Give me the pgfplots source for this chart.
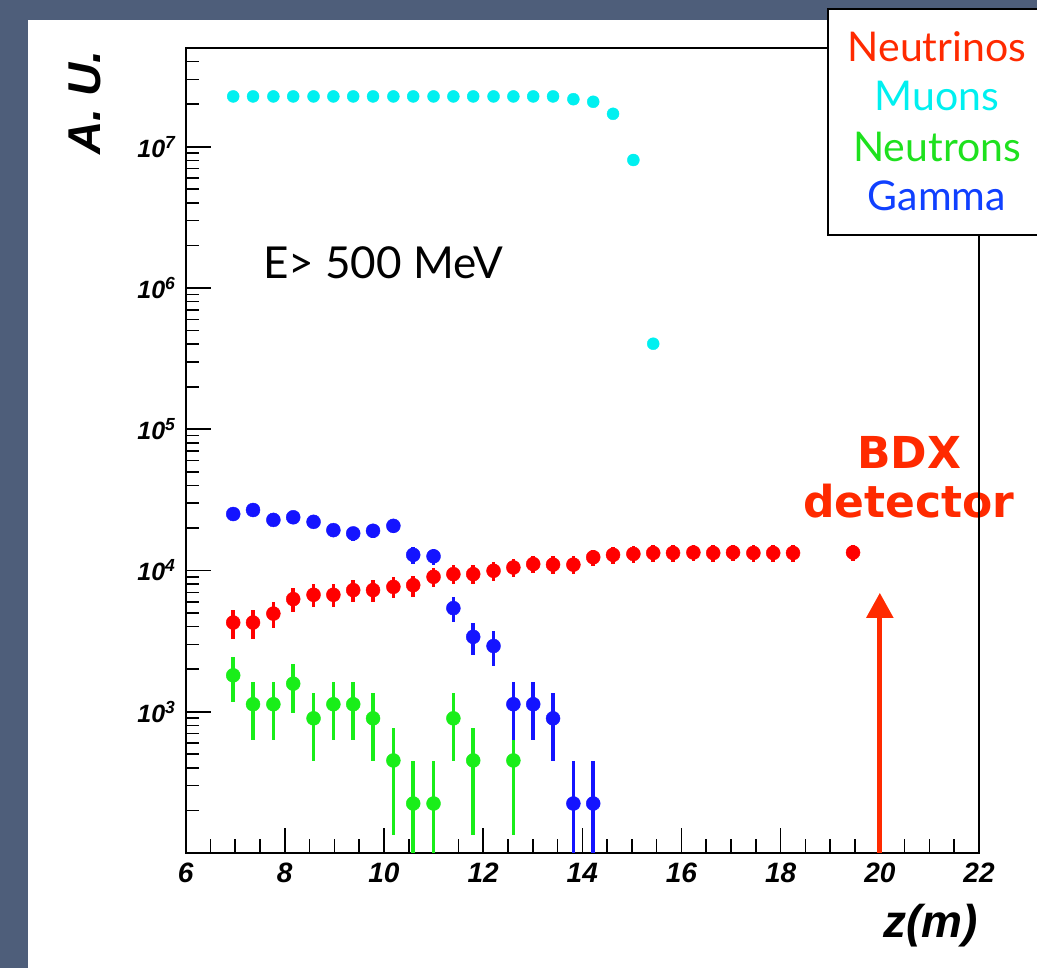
\documentclass[border=0pt]{standalone}
\usepackage{fontspec}
\usepackage{pgfplots}
\pgfplotsset{compat=1.18}
\usepackage{pgfplotstable}
\usetikzlibrary{arrows.meta}
\newfontfamily\helv{Liberation Sans}
\newfontfamily\gill{Lato}
\newfontfamily\dejavu{DejaVu Sans}
\definecolor{slide}{RGB}{78,94,122}
\definecolor{bdxred}{RGB}{255,42,0}
\definecolor{rred}{RGB}{255,0,0}
\definecolor{rgreen}{RGB}{25,238,25}
\definecolor{rblue}{RGB}{20,20,255}
\definecolor{rcyan}{RGB}{0,240,240}
\definecolor{lgreen}{RGB}{30,225,30}
\definecolor{lblue}{RGB}{16,64,255}

\pgfplotstableread{
z v ep em
6.96 4280 981 981
7.36 4280 981 981
7.77 4950 1055 1055
8.17 6270 1188 1188
8.58 6730 1231 1231
8.98 6730 1231 1231
9.38 7260 1278 1278
9.78 7260 1278 1278
10.19 7660 1313 1313
10.59 7870 1331 1331
11.00 9020 1425 1425
11.40 9420 1456 1456
11.80 9420 1456 1456
12.21 9950 1496 1496
12.61 10500 1537 1537
13.01 11100 1580 1580
13.41 11000 1573 1573
13.82 11000 1573 1573
14.22 12400 1670 1670
14.62 12900 1704 1704
15.03 13100 1717 1717
15.43 13300 1730 1730
15.83 13300 1730 1730
16.24 13400 1736 1736
16.64 13300 1730 1730
17.04 13400 1736 1736
17.45 13300 1730 1730
17.85 13300 1730 1730
18.25 13300 1730 1730
19.46 13400 1736 1736
}\neutrinos

\pgfplotstableread{
z v
6.96 22700000
7.36 22700000
7.77 22700000
8.17 22700000
8.58 22700000
8.98 22700000
9.38 22700000
9.78 22700000
10.19 22700000
10.59 22700000
11.00 22700000
11.40 22700000
11.80 22700000
12.21 22700000
12.61 22700000
13.01 22700000
13.41 22700000
13.82 21700000
14.22 20800000
14.62 17100000
15.03 8050000
15.43 403000
}\muons

\pgfplotstableread{
z v ep em
6.96 1810 638 638
7.36 1130 504 504
7.77 1130 504 504
8.17 1580 596 596
8.58 898 450 450
8.98 1130 504 504
9.38 1130 504 504
9.78 898 450 450
10.19 452 319 319
10.59 224 225 222
11.00 224 225 222
11.40 898 450 450
11.80 452 319 319
12.61 452 319 319
}\neutrons

\pgfplotstableread{
z v ep em
6.96 25100 2376 2376
7.36 26800 2456 2456
7.77 22800 2265 2265
8.17 23800 2314 2314
8.58 22100 2230 2230
8.98 19300 2084 2084
9.38 18300 2029 2029
9.78 19100 2073 2073
10.19 20700 2158 2158
10.59 12900 1704 1704
11.00 12600 1684 1684
11.40 5410 1103 1103
11.80 3390 873 873
12.21 2920 811 811
12.61 1130 504 504
13.01 1130 504 504
13.41 898 450 450
13.82 224 225 222
14.22 224 225 222
}\gammas

\begin{document}
\begin{tikzpicture}
\useasboundingbox (0,0) rectangle (1037pt,968pt);
\fill[slide] (0,0) rectangle (1037pt,968pt);
\fill[white] (28pt,0) rectangle (1037pt,948pt);

% annotation text (under the axis frame)
\node[font=\gill\fontsize{44}{44}\selectfont, anchor=base west, inner sep=0pt] at (263pt,689pt) {E> 500 MeV};
\node[font=\dejavu\bfseries\fontsize{44}{44}\selectfont, text=bdxred, anchor=base, inner sep=0pt] at (909pt,499pt) {BDX};
\node[font=\dejavu\bfseries\fontsize{44}{44}\selectfont, text=bdxred, anchor=base, inner sep=0pt] at (909pt,450pt) {detector};

\begin{axis}[
  at={(185.6pt,115pt)}, anchor=south west,
  scale only axis, width=793.4pt, height=805pt,
  xmin=6, xmax=22, ymode=log, ymin=100, ymax=5e7,
  tick pos=left, tick align=inside,
  xtick={6,8,10,12,14,16,18,20,22},
  xticklabels={6,8,10,12,14,16,18,20,22},
  minor x tick num=3,
  ytick={1000,10000,100000,1000000,10000000},
  yticklabels={{10\textsuperscript{3}},{10\textsuperscript{4}},{10\textsuperscript{5}},{10\textsuperscript{6}},{10\textsuperscript{7}}},
  minor ytick={200,300,400,500,600,700,800,900,2000,3000,4000,5000,6000,7000,8000,9000,20000,30000,40000,50000,60000,70000,80000,90000,200000,300000,400000,500000,600000,700000,800000,900000,2000000,3000000,4000000,5000000,6000000,7000000,8000000,9000000,20000000,30000000,40000000},
  major tick length=25pt, minor tick length=13.5pt,
  every tick/.style={black, line width=1.6pt},
  axis line style={line width=2pt},
  xticklabel style={font=\helv\bfseries\itshape\fontsize{28}{28}\selectfont, anchor=north, inner sep=0pt, yshift=-10pt},
  yticklabel style={font=\helv\bfseries\itshape\fontsize{25}{25}\selectfont, anchor=east, inner sep=0pt, xshift=-10pt},
  error bars/error bar style={line width=3.5pt},
]
\addplot[only marks, mark=*, color=rgreen, mark size=7pt,
  error bars/.cd, y dir=both, y explicit, error mark=none]
  table[x=z, y=v, y error plus=ep, y error minus=em] {\neutrons};
\addplot[only marks, mark=*, color=rred, mark size=7pt,
  error bars/.cd, y dir=both, y explicit, error mark=none]
  table[x=z, y=v, y error plus=ep, y error minus=em] {\neutrinos};
\addplot[only marks, mark=*, color=rblue, mark size=7pt,
  error bars/.cd, y dir=both, y explicit, error mark=none]
  table[x=z, y=v, y error plus=ep, y error minus=em] {\gammas};
\addplot[only marks, mark=*, color=rcyan, mark size=6pt] table[x=z, y=v] {\muons};
\draw[bdxred, line width=5pt, -{Triangle[length=25pt,width=26pt]}] (axis cs:20,100) -- (axis cs:20,6950);
\end{axis}

% axis titles
\node[font=\helv\bfseries\itshape\fontsize{46}{46}\selectfont, rotate=90, anchor=east, inner sep=0pt] at (84.5pt,918pt) {A. U.};
\node[font=\helv\bfseries\itshape\fontsize{46}{46}\selectfont, anchor=base east, inner sep=0pt] at (978pt,30pt) {z(m)};

% legend box
\draw[line width=2pt, fill=white] (828pt,733pt) rectangle (1060pt,959pt);
\begin{scope}[every node/.style={font=\gill\fontsize{41}{41}\selectfont, anchor=base, inner sep=0pt}]
\node[text=bdxred] at (937pt,906pt) {Neutrinos};
\node[text=rcyan] at (937pt,857pt) {Muons};
\node[text=lgreen] at (937pt,806pt) {Neutrons};
\node[text=lblue] at (937pt,757pt) {Gamma};
\end{scope}
\end{tikzpicture}
\end{document}
